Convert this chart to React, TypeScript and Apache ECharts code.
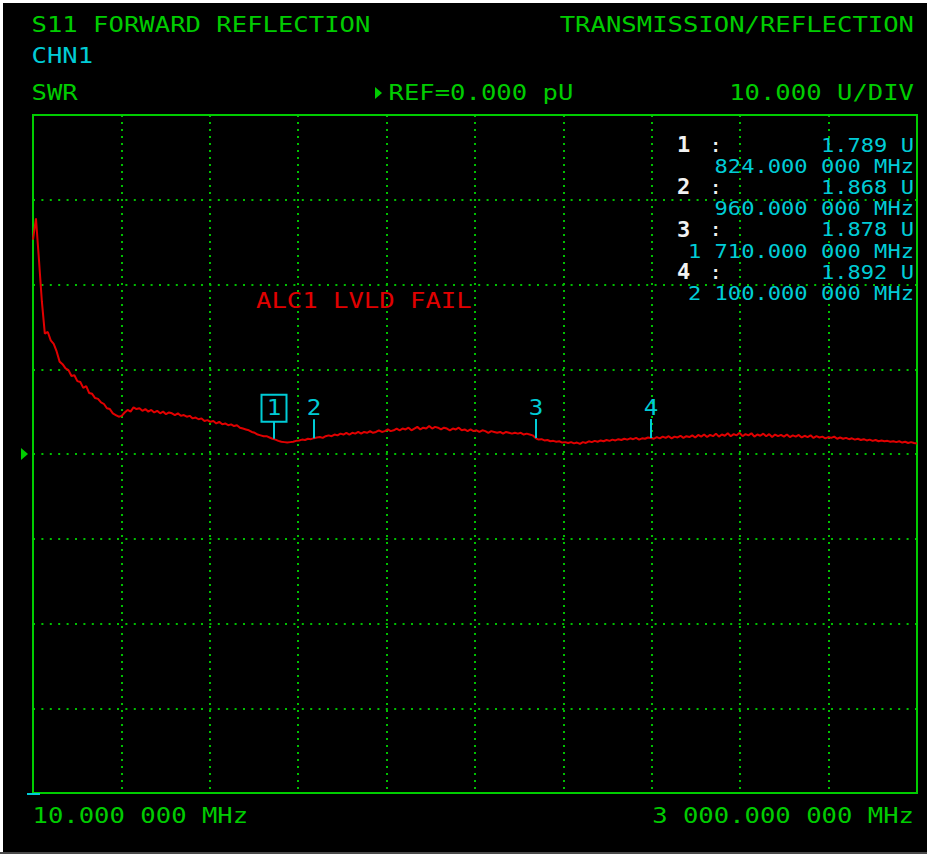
import React, { useEffect, useRef } from 'react';
import * as echarts from 'echarts';

// ---- Sweep / scale settings ----
const FREQ_START = 10; // MHz
const FREQ_STOP = 3000; // MHz
const FREQ_STEP = 10; // MHz between trace points
const REF_VALUE = 0; // U
const UNITS_PER_DIV = 10; // U/DIV
const Y_MIN = -40;
const Y_MAX = 40;
const X_DIVS = 10;

// ---- SWR trace (U), one value per FREQ_STEP starting at FREQ_START ----
const SWR_TRACE = [
  25.3, 27.8, 23.0, 18.0, 14.2, 14.4, 13.4, 13.0, 12.1, 10.9,
  10.6, 10.1, 9.9, 9.2, 9.3, 8.6, 8.5, 7.8, 8.0, 7.2,
  7.1, 6.6, 6.5, 6.1, 5.9, 5.4, 5.3, 4.8, 4.6, 4.4,
  4.5, 4.9, 5.2, 5.0, 5.5, 5.3, 5.4, 5.1, 5.3, 5.0,
  5.2, 4.9, 5.1, 4.8, 5.0, 4.7, 4.9, 4.8, 4.6, 4.8,
  4.5, 4.6, 4.4, 4.5, 4.2, 4.3, 4.1, 4.2, 3.9, 4.0,
  3.8, 3.9, 3.6, 3.8, 3.5, 3.6, 3.4, 3.5, 3.3, 3.4,
  3.1, 3.0, 2.9, 2.8, 2.6, 2.5, 2.3, 2.2, 2.1, 2.1,
  1.95, 1.8, 1.7, 1.55, 1.45, 1.4, 1.35, 1.4, 1.45, 1.55,
  1.6, 1.7, 1.65, 1.8, 1.75, 1.87, 1.95, 2.0, 1.9, 2.1,
  2.2, 2.1, 2.3, 2.2, 2.4, 2.3, 2.5, 2.3, 2.5, 2.4,
  2.6, 2.4, 2.6, 2.5, 2.7, 2.5, 2.6, 2.8, 2.6, 2.7,
  2.9, 2.7, 2.8, 3.0, 2.8, 3.0, 2.9, 3.1, 2.8, 3.0,
  3.2, 2.9, 3.1, 3.0, 3.3, 3.0, 3.2, 3.1, 2.9, 3.1,
  3.0, 2.8, 3.0, 2.9, 3.1, 2.8, 2.9, 2.7, 2.9, 2.7,
  2.8, 2.6, 2.8, 2.7, 2.5, 2.7, 2.6, 2.5, 2.6, 2.4,
  2.6, 2.5, 2.4, 2.5, 2.4, 2.5, 2.3, 2.4, 2.3, 2.2,
  1.88, 1.7, 1.75, 1.6, 1.65, 1.5, 1.55, 1.45, 1.5, 1.35,
  1.4, 1.3, 1.4, 1.25, 1.35, 1.2, 1.4, 1.3, 1.5, 1.4,
  1.55, 1.45, 1.6, 1.5, 1.65, 1.55, 1.7, 1.6, 1.75, 1.65,
  1.8, 1.7, 1.85, 1.75, 1.9, 1.7, 1.85, 1.8, 1.95, 1.89,
  1.8, 2.0, 1.85, 2.05, 1.9, 2.1, 1.85, 2.05, 1.95, 2.15,
  1.9, 2.1, 2.0, 2.2, 1.95, 2.25, 2.05, 2.3, 2.0, 2.25,
  2.1, 2.4, 2.05, 2.3, 2.15, 2.45, 2.1, 2.35, 2.2, 2.5,
  2.1, 2.35, 2.2, 2.45, 2.05, 2.3, 2.15, 2.4, 2.1, 2.35,
  2.0, 2.3, 2.1, 2.25, 2.05, 2.3, 2.0, 2.2, 2.05, 2.25,
  1.95, 2.15, 2.0, 2.2, 1.9, 2.1, 1.95, 2.05, 1.85, 2.0,
  1.9, 2.05, 1.8, 1.95, 1.8, 1.9, 1.75, 1.85, 1.7, 1.8,
  1.65, 1.75, 1.6, 1.7, 1.55, 1.65, 1.5, 1.6, 1.5, 1.55,
  1.45, 1.5, 1.4, 1.5, 1.35, 1.45, 1.3, 1.4, 1.3, 1.25,
];

// ---- Markers ----
const MARKER_IDS = ['1', '2', '3', '4'];
const MARKER_FREQS = [824, 960, 1710, 2100]; // MHz
const MARKER_VALUES = [1.789, 1.868, 1.878, 1.892]; // U
const ACTIVE_MARKER = 0;

// ---- Header texts ----
const TITLE_LEFT = 'S11 FORWARD REFLECTION';
const TITLE_RIGHT = 'TRANSMISSION/REFLECTION';
const CHANNEL = 'CHN1';
const FORMAT = 'SWR';
const REF_TEXT = 'REF=0.000 pU';
const SCALE_TEXT = '10.000 U/DIV';
const START_TEXT = '10.000 000 MHz';
const STOP_TEXT = '3 000.000 000 MHz';
const WARNING_TEXT = 'ALC1 LVLD FAIL';

const GREEN = '#00cc00';
const GRID_GREEN = '#00c000';
const CYAN = '#00ccd6';
const RED = '#e00000';
const WHITE = '#f2f2f2';
const FAMILY = '"DejaVu Sans Mono", "Liberation Mono", monospace';

function fmtFreq(f: number): string {
  const whole = Math.floor(f);
  const th = Math.floor(whole / 1000);
  const rest = whole % 1000;
  const head = th > 0 ? `${th} ${String(rest).padStart(3, '0')}` : String(rest);
  return `${head}.000 000 MHz`;
}

function txt(text: string, x: number, y: number, o: any = {}) {
  const size = o.size ?? 22;
  const align = o.align ?? 'left';
  return {
    type: 'text',
    x,
    y,
    scaleX: o.sx ?? 1.163,
    z: 50,
    silent: true,
    style: {
      text,
      fill: o.color ?? GREEN,
      font: `${o.weight ?? 'normal'} ${size}px ${FAMILY}`,
      align,
      textAlign: align,
      verticalAlign: 'middle',
      textVerticalAlign: 'middle',
    },
  };
}

export default function App() {
  const ref = useRef<HTMLDivElement>(null);

  useEffect(() => {
    if (!ref.current) return;
    const chart = echarts.init(ref.current, undefined, { renderer: 'svg' });

    const trace = SWR_TRACE.map((v, i) => [FREQ_START + i * FREQ_STEP, v]);
    const markers = MARKER_FREQS.map((f, i) => [f, MARKER_VALUES[i]]);

    const readout: any[] = [];
    const rowH = 21.2;
    MARKER_IDS.forEach((id, i) => {
      const y0 = 144.5 + rowH * 2 * i;
      readout.push(txt(id, 677, y0, { color: WHITE, weight: 'bold', size: 21, sx: 1.05 }));
      readout.push(txt(':', 709, y0, { color: WHITE, size: 20, sx: 1.105 }));
      readout.push(txt(`${MARKER_VALUES[i].toFixed(3)} U`, 914, y0, { color: CYAN, size: 20, sx: 1.105, align: 'right' }));
      readout.push(txt(fmtFreq(MARKER_FREQS[i]), 914, y0 + rowH, { color: CYAN, size: 20, sx: 1.105, align: 'right' }));
    });

    const option: any = {
      animation: false,
      backgroundColor: '#000000',
      grid: {
        left: 33,
        top: 115,
        width: 884,
        height: 678,
        show: true,
        borderColor: GREEN,
        borderWidth: 2,
        backgroundColor: 'transparent',
        z: 5,
      },
      xAxis: [
        {
          type: 'value',
          min: FREQ_START,
          max: FREQ_STOP,
          show: false,
          splitLine: { show: false },
        },
        {
          type: 'value',
          min: 0,
          max: X_DIVS,
          interval: 1,
          axisLine: { show: false },
          axisTick: { show: false },
          axisLabel: { show: false },
          splitLine: { show: true, lineStyle: { color: GRID_GREEN, width: 2, type: [2, 5] } },
        },
      ],
      yAxis: [
        {
          type: 'value',
          min: Y_MIN,
          max: Y_MAX,
          interval: UNITS_PER_DIV,
          axisLine: { show: false },
          axisTick: { show: false },
          axisLabel: { show: false },
          splitLine: { show: true, lineStyle: { color: GRID_GREEN, width: 2, type: [2, 6.4] } },
        },
      ],
      series: [
        {
          type: 'line',
          xAxisIndex: 0,
          yAxisIndex: 0,
          data: trace,
          showSymbol: false,
          symbol: 'none',
          lineStyle: { color: RED, width: 2 },
          z: 10,
          silent: true,
        },
        {
          type: 'custom',
          xAxisIndex: 0,
          yAxisIndex: 0,
          data: markers,
          z: 20,
          clip: false,
          silent: true,
          renderItem: (params: any, api: any) => {
            const i = params.dataIndex;
            const p = api.coord([api.value(0), api.value(1)]);
            const x = Math.round(p[0]);
            const y = p[1];
            const active = i === ACTIVE_MARKER;
            const children: any[] = [
              {
                type: 'line',
                shape: { x1: x, y1: y, x2: x, y2: active ? y - 17 : y - 19 },
                style: { stroke: CYAN, lineWidth: 2 },
              },
              {
                type: 'text',
                x,
                y: y - 31,
                scaleX: 1.1,
                style: {
                  text: MARKER_IDS[i],
                  fill: CYAN,
                  font: `normal 22px ${FAMILY}`,
                  align: 'center',
                  textAlign: 'center',
                  verticalAlign: 'middle',
                  textVerticalAlign: 'middle',
                },
              },
            ];
            if (active) {
              children.push({
                type: 'rect',
                shape: { x: x - 12.5, y: y - 44, width: 25, height: 27 },
                style: { fill: 'none', stroke: CYAN, lineWidth: 2 },
              });
            }
            return { type: 'group', children };
          },
        },
        {
          type: 'custom',
          xAxisIndex: 0,
          yAxisIndex: 0,
          data: [[FREQ_START, REF_VALUE]],
          z: 20,
          clip: false,
          silent: true,
          renderItem: (_params: any, api: any) => {
            const p = api.coord([api.value(0), api.value(1)]);
            return {
              type: 'polygon',
              shape: { points: [[p[0] - 12, p[1] - 6], [p[0] - 12, p[1] + 6], [p[0] - 5, p[1]]] },
              style: { fill: GREEN },
            };
          },
        },
      ],
      graphic: [
        { type: 'rect', shape: { x: 0, y: 0, width: 3, height: 854 }, style: { fill: '#ffffff' }, z: 100, silent: true },
        { type: 'rect', shape: { x: 0, y: 0, width: 927, height: 3 }, style: { fill: '#ffffff' }, z: 100, silent: true },
        { type: 'rect', shape: { x: 0, y: 852, width: 927, height: 2 }, style: { fill: '#4a4a4a' }, z: 100, silent: true },
        txt(TITLE_LEFT, 31.5, 25),
        txt(TITLE_RIGHT, 914, 25, { align: 'right' }),
        txt(CHANNEL, 31.5, 56, { color: CYAN }),
        txt(FORMAT, 31.5, 93),
        {
          type: 'polygon',
          shape: { points: [[375, 87], [375, 99], [382, 93]] },
          style: { fill: GREEN },
          z: 50,
          silent: true,
        },
        txt(REF_TEXT, 388.5, 93),
        txt(SCALE_TEXT, 914, 93, { align: 'right' }),
        txt(START_TEXT, 32.5, 816),
        txt(STOP_TEXT, 914, 816, { align: 'right' }),
        txt(WARNING_TEXT, 256, 301, { color: RED }),
        {
          type: 'line',
          shape: { x1: 27, y1: 794, x2: 40, y2: 794 },
          style: { stroke: CYAN, lineWidth: 2 },
          z: 60,
          silent: true,
        },
        ...readout,
      ],
    };

    chart.setOption(option);
    return () => chart.dispose();
  }, []);

  return (
    <div
      ref={ref}
      style={{ position: 'fixed', left: 0, top: 0, width: 927, height: 854, background: '#000' }}
    />
  );
}
